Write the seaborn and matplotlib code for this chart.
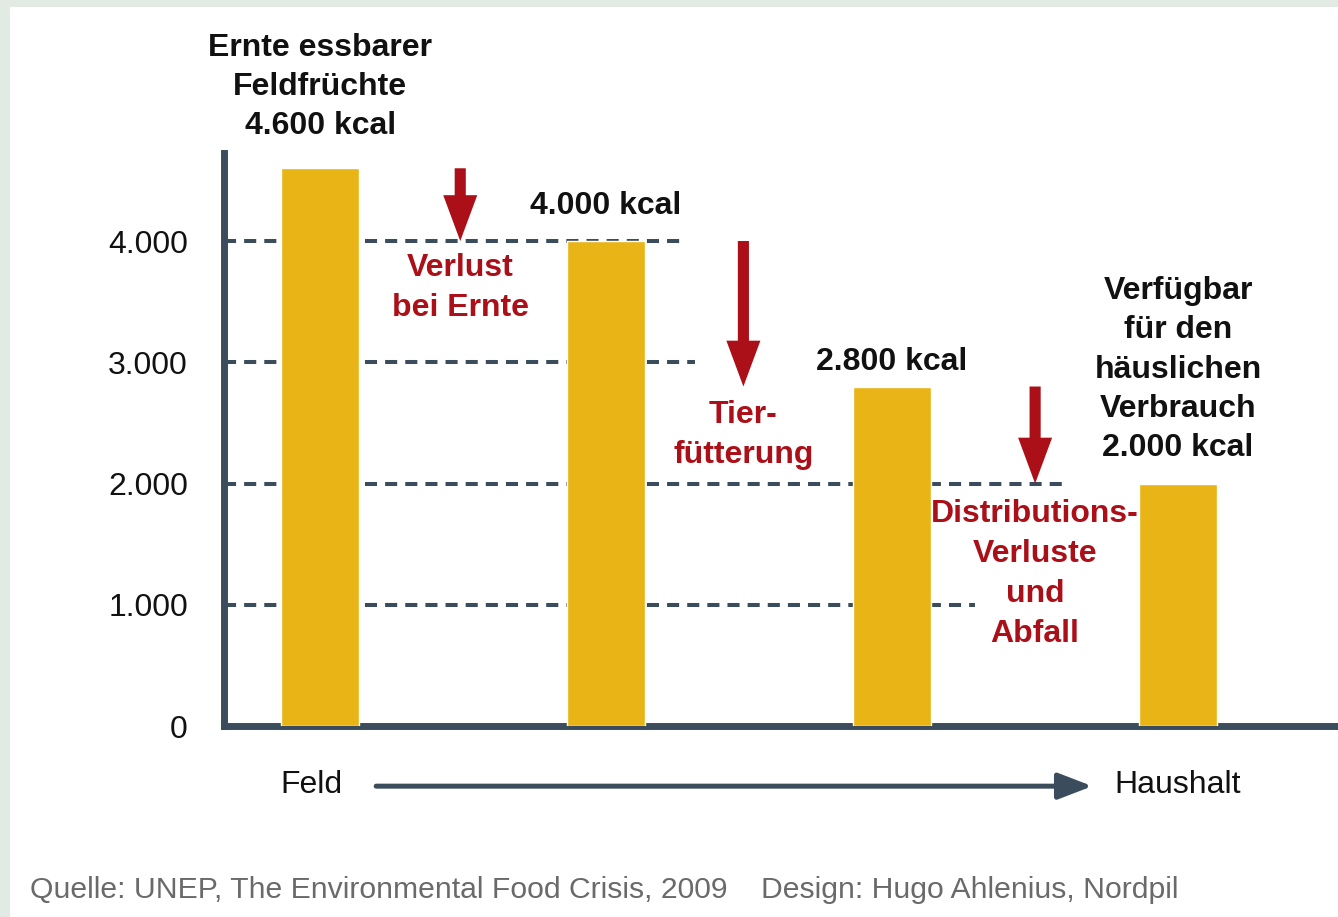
import matplotlib
matplotlib.use("Agg")
import matplotlib.pyplot as plt
import seaborn as sns
import pandas as pd
from matplotlib.patches import Rectangle

# -- data (kcal per person and day along the food chain)
stages = ["Ernte", "nach Ernte", "nach Tierfuetterung", "Haushalt"]
kcal = [4600, 4000, 2800, 2000]
bar_labels = [
    "Ernte essbarer\nFeldfrüchte\n4.600 kcal",
    "4.000 kcal",
    "2.800 kcal",
    "Verfügbar\nfür den\nhäuslichen\nVerbrauch\n2.000 kcal",
]
loss_labels = ["Verlust\nbei Ernte", "Tier-\nfütterung", "Distributions-\nVerluste\nund\nAbfall"]
y_ticks = [0, 1000, 2000, 3000, 4000]
y_ticklabels = ["0", "1.000", "2.000", "3.000", "4.000"]
guide_levels = [4000, 3000, 2000, 1000]
axis_start, axis_end = "Feld", "Haushalt"
source = "Quelle: UNEP, The Environmental Food Crisis, 2009    Design: Hugo Ahlenius, Nordpil"

# -- layout / style
BAR = "#e9b416"
SLATE = "#3b4d5c"
RED = "#ab0f18"
guide_ends = [1.28, 1.31, 2.615, 2.29]      # x (category units) where each dashed line stops
loss_x = [0.49, 1.48, 2.50]                  # x of the loss arrows / labels
loss_text_y = [3612, 2400, 1255]             # centre of red labels (data units)
label_offsets = [58.5, 25.5, 18, 82]         # points above bar top (label centre)
XLIM = (-0.336, 3.559)
YLIM = (0, 4726)

df = pd.DataFrame({"stage": stages, "kcal": kcal})

sns.set_theme(style="white")
plt.rcParams["font.family"] = ["Liberation Sans", "DejaVu Sans"]

fig = plt.figure(figsize=(13.38, 9.17), dpi=100)
fig.patch.set_facecolor("#e2ebe3")
fig.add_artist(Rectangle((10 / 1338, 0), 1, 1 - 7 / 917, transform=fig.transFigure,
                         facecolor="white", edgecolor="none", zorder=-10))

ax = fig.add_axes([224 / 1338, 191 / 917, 1114 / 1338, 573 / 917])
ax.set_facecolor("none")

sns.barplot(data=df, x="stage", y="kcal", color=BAR, saturation=1, width=0.273,
            ax=ax, zorder=3)

# dashed guide lines behind the bars
for lvl, end in zip(guide_levels, guide_ends):
    ax.hlines(lvl, XLIM[0], end, colors=SLATE, linewidth=2.9,
              linestyles=(0, (3, 2)), zorder=1)

ax.set_xlim(*XLIM)
ax.set_ylim(*YLIM)
ax.set_xticks([])
ax.set_xlabel("")
ax.set_ylabel("")
ax.set_yticks(y_ticks)
ax.set_yticklabels(y_ticklabels, fontsize=23, color="#111111")
ax.tick_params(axis="y", length=0, pad=26)
sns.despine(ax=ax)
for side in ["left", "bottom"]:
    ax.spines[side].set_color(SLATE)
    ax.spines[side].set_linewidth(5)

# value labels above bars
for i, (v, txt) in enumerate(zip(kcal, bar_labels)):
    ax.annotate(txt, xy=(i, v), xytext=(0, label_offsets[i]), textcoords="offset points",
                ha="center", va="center", fontsize=23, fontweight="bold",
                color="#111111", linespacing=1.41, annotation_clip=False)

# loss arrows and red labels
for i, (x, txt) in enumerate(zip(loss_x, loss_labels)):
    ax.annotate("", xy=(x, kcal[i + 1]), xytext=(x, kcal[i]),
                arrowprops=dict(arrowstyle="simple,head_length=33,head_width=24.5,tail_width=8",
                                mutation_scale=1, color=RED, lw=0, shrinkA=0, shrinkB=0),
                zorder=4)
    ax.text(x, loss_text_y[i], txt, ha="center", va="center", fontsize=23,
            fontweight="bold", color=RED, linespacing=1.43, zorder=5)

# Feld -> Haushalt arrow below the axis
trans = ax.get_xaxis_transform()
ax.text(-0.03, -0.103, axis_start, transform=trans, ha="center", va="center",
        fontsize=23, color="#111111")
ax.text(3.0, -0.103, axis_end, transform=trans, ha="center", va="center",
        fontsize=23, color="#111111")
ax.annotate("", xy=(2.70, -0.105), xytext=(0.196, -0.105), xycoords=trans, textcoords=trans,
            arrowprops=dict(arrowstyle="-|>,head_length=1.3,head_width=0.5", color=SLATE,
                            lw=3.6, shrinkA=0, shrinkB=0, mutation_scale=16),
            annotation_clip=False)

fig.text(30 / 1338, 1 - 890 / 917, source, ha="left", va="center",
         fontsize=21.7, color="#6a6a6a")

plt.savefig("out.png", dpi=100)
